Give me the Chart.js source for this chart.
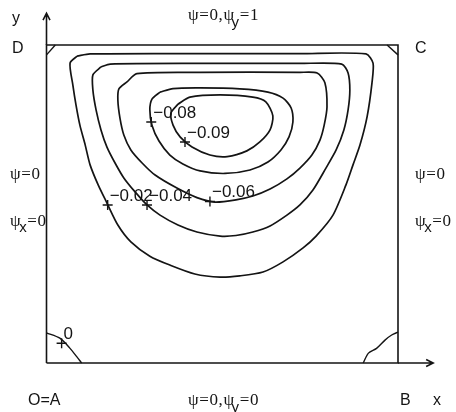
<!DOCTYPE html>
<html><head><meta charset="utf-8">
<script src="https://cdn.jsdelivr.net/npm/chart.js@4/dist/chart.umd.min.js"></script>
<style>html,body{margin:0;padding:0;background:#fff;}canvas{display:block;}</style>
</head><body>
<canvas id="c" width="456" height="412"></canvas>
<script>
// ---- data (cavity coordinates: x, y in [0,1]) ----
const levels    = [-0.02, -0.04, -0.06, -0.08, -0.09, 0];
const levelText = ['\u22120.02', '\u22120.04', '\u22120.06', '\u22120.08', '\u22120.09', '0'];
const labelX    = [0.174, 0.286, 0.465, 0.298, 0.394, 0.043];
const labelY    = [0.497, 0.497, 0.508, 0.758, 0.695, 0.062];

const psiM002 = [[0.087,0.965],[0.124,0.972],[0.437,0.973],[0.721,0.973],[0.909,0.972],[0.929,0.943],[0.926,0.881],[0.912,0.774],[0.892,0.686],[0.872,0.623],[0.852,0.560],[0.815,0.465],[0.767,0.399],[0.730,0.362],[0.673,0.318],[0.616,0.286],[0.550,0.274],[0.494,0.270],[0.422,0.280],[0.351,0.308],[0.294,0.336],[0.240,0.381],[0.203,0.434],[0.172,0.503],[0.147,0.560],[0.124,0.623],[0.110,0.686],[0.095,0.748],[0.084,0.811],[0.075,0.874],[0.067,0.943],[0.087,0.965]];
const psiM004 = [[0.155,0.931],[0.181,0.940],[0.437,0.942],[0.721,0.942],[0.840,0.940],[0.858,0.912],[0.863,0.858],[0.858,0.796],[0.846,0.733],[0.824,0.670],[0.795,0.613],[0.758,0.544],[0.721,0.497],[0.684,0.465],[0.636,0.431],[0.587,0.412],[0.539,0.401],[0.494,0.399],[0.428,0.412],[0.374,0.434],[0.323,0.465],[0.286,0.497],[0.252,0.538],[0.220,0.582],[0.195,0.629],[0.172,0.679],[0.155,0.733],[0.141,0.796],[0.132,0.858],[0.132,0.906],[0.155,0.931]];
const psiM006 = [[0.229,0.884],[0.257,0.910],[0.437,0.914],[0.721,0.914],[0.770,0.912],[0.792,0.881],[0.798,0.805],[0.790,0.748],[0.778,0.701],[0.755,0.654],[0.721,0.613],[0.684,0.579],[0.636,0.547],[0.587,0.525],[0.539,0.513],[0.479,0.506],[0.428,0.520],[0.371,0.550],[0.309,0.591],[0.272,0.629],[0.240,0.670],[0.220,0.717],[0.209,0.770],[0.203,0.827],[0.206,0.862],[0.229,0.884]];
const psiM008 = [[0.323,0.852],[0.360,0.863],[0.437,0.865],[0.550,0.862],[0.630,0.852],[0.673,0.833],[0.696,0.802],[0.701,0.758],[0.690,0.711],[0.667,0.670],[0.630,0.632],[0.579,0.607],[0.508,0.596],[0.437,0.604],[0.388,0.626],[0.351,0.654],[0.320,0.698],[0.300,0.748],[0.294,0.796],[0.300,0.830],[0.323,0.852]];
const psiM009 = [[0.374,0.814],[0.408,0.836],[0.494,0.843],[0.587,0.836],[0.624,0.821],[0.644,0.777],[0.636,0.733],[0.607,0.695],[0.570,0.667],[0.514,0.649],[0.465,0.654],[0.414,0.679],[0.380,0.711],[0.360,0.748],[0.354,0.786],[0.374,0.814]];
const psiZeroTL = [[0.000,0.969],[0.025,1.000]];
const psiZeroTR = [[0.969,1.000],[1.000,0.969]];
const psiZeroBL = [[0.000,0.095],[0.038,0.078],[0.067,0.046],[0.086,0.020],[0.100,0.000]];
const psiZeroBR = [[0.901,0.000],[0.916,0.031],[0.939,0.046],[0.963,0.072],[0.982,0.088],[1.000,0.097]];
const cavityWalls = [[0,0],[1,0],[1,1],[0,1],[0,0]];
const axisEnd = 1.1;

const cornerNames = ['D', 'C', 'O=A', 'B'];
const axisNames = ['x', 'y'];

const toPts = a => a.map(p => ({x: p[0], y: p[1]}));
const INK = '#141414';
function lineDs(arr, w, t) {
  return { data: toPts(arr), showLine: true, pointRadius: 0, borderColor: INK,
           borderWidth: w, tension: t, fill: false, clip: false };
}
const datasets = [
  lineDs(cavityWalls, 1.6, 0),
  lineDs(psiM002, 1.7, 0.25),
  lineDs(psiM004, 1.7, 0.25),
  lineDs(psiM006, 1.7, 0.25),
  lineDs(psiM008, 1.7, 0.25),
  lineDs(psiM009, 1.7, 0.25),
  lineDs(psiZeroTL, 1.4, 0),
  lineDs(psiZeroTR, 1.4, 0),
  lineDs(psiZeroBL, 1.4, 0.3),
  lineDs(psiZeroBR, 1.4, 0.3),
  { data: labelX.map((x, i) => ({x, y: labelY[i]})), showLine: false, pointStyle: 'cross',
    pointRadius: 5, pointBorderWidth: 1.4, pointBorderColor: INK, clip: false }
];

const SERIF = '"Liberation Serif", "Times New Roman", serif';
const SANS = '"Liberation Sans", Arial, Helvetica, sans-serif';

function rich(ctx, parts, x, y) {
  let cx = x;
  for (const p of parts) {
    ctx.font = p.f;
    cx += (p.dx || 0);
    ctx.fillText(p.t, cx, y + (p.dy || 0));
    cx += ctx.measureText(p.t).width;
  }
}

const decor = {
  id: 'decor',
  afterDatasetsDraw(chart) {
    const ctx = chart.ctx, xs = chart.scales.x, ys = chart.scales.y;
    const L = xs.getPixelForValue(0), R = xs.getPixelForValue(1);
    const B = ys.getPixelForValue(0), T = ys.getPixelForValue(1);
    const XE = xs.getPixelForValue(axisEnd), YE = ys.getPixelForValue(axisEnd);
    ctx.save();
    ctx.strokeStyle = INK; ctx.fillStyle = INK; ctx.lineWidth = 1.6;
    // axis extensions with arrowheads
    ctx.beginPath();
    ctx.moveTo(L, T); ctx.lineTo(L, YE);
    ctx.moveTo(L - 3.5, YE + 7); ctx.lineTo(L, YE); ctx.lineTo(L + 3.5, YE + 7);
    ctx.moveTo(R, B); ctx.lineTo(XE, B);
    ctx.moveTo(XE - 7, B - 3.5); ctx.lineTo(XE, B); ctx.lineTo(XE - 7, B + 3.5);
    ctx.stroke();

    ctx.textBaseline = 'alphabetic'; ctx.textAlign = 'left';
    // contour labels
    ctx.font = '17px ' + SANS;
    levelText.forEach((t, i) => {
      const px = xs.getPixelForValue(labelX[i]), py = ys.getPixelForValue(labelY[i]);
      ctx.fillText(t, px + 2, py - 4);
    });
    // corner and axis names
    ctx.font = '16px ' + SANS;
    ctx.fillText(axisNames[1], L - 34.5, T - 22);
    ctx.fillText(cornerNames[0], L - 34.5, T + 8);
    ctx.fillText(cornerNames[1], R + 17, T + 8);
    ctx.fillText(cornerNames[2], L - 18.5, B + 42);
    ctx.fillText(cornerNames[3], R + 2, B + 42);
    ctx.fillText(axisNames[0], R + 35, B + 42);
    // boundary conditions
    ctx.letterSpacing = '0.6px';
    const sf = '17px ' + SERIF, sb = '15px ' + SANS;
    rich(ctx, [{t:'\u03C8=0,\u03C8', f:sf}, {t:'y', f:sb, dx:-3, dy:7}, {t:'=1', f:sf}], 188, T - 25);
    rich(ctx, [{t:'\u03C8=0,\u03C8', f:sf}, {t:'y', f:sb, dx:-3, dy:7}, {t:'=0', f:sf}], 188, B + 42);
    rich(ctx, [{t:'\u03C8=0', f:sf}], 10, 179);
    rich(ctx, [{t:'\u03C8', f:sf}, {t:'x', f:sb, dx:-2, dy:6}, {t:'=0', f:sf}], 10, 226);
    rich(ctx, [{t:'\u03C8=0', f:sf}], R + 17, 179);
    rich(ctx, [{t:'\u03C8', f:sf}, {t:'x', f:sb, dx:-2, dy:6}, {t:'=0', f:sf}], R + 17, 226);
    ctx.restore();
  }
};

new Chart(document.getElementById('c'), {
  type: 'scatter',
  data: { datasets },
  options: {
    responsive: false, animation: false,
    layout: { padding: { left: 46.5, right: 58, top: 45, bottom: 49 } },
    scales: {
      x: { type: 'linear', min: 0, max: 1, display: false },
      y: { type: 'linear', min: 0, max: 1, display: false }
    },
    plugins: { legend: { display: false }, tooltip: { enabled: false } }
  },
  plugins: [decor]
});
</script>
</body></html>
